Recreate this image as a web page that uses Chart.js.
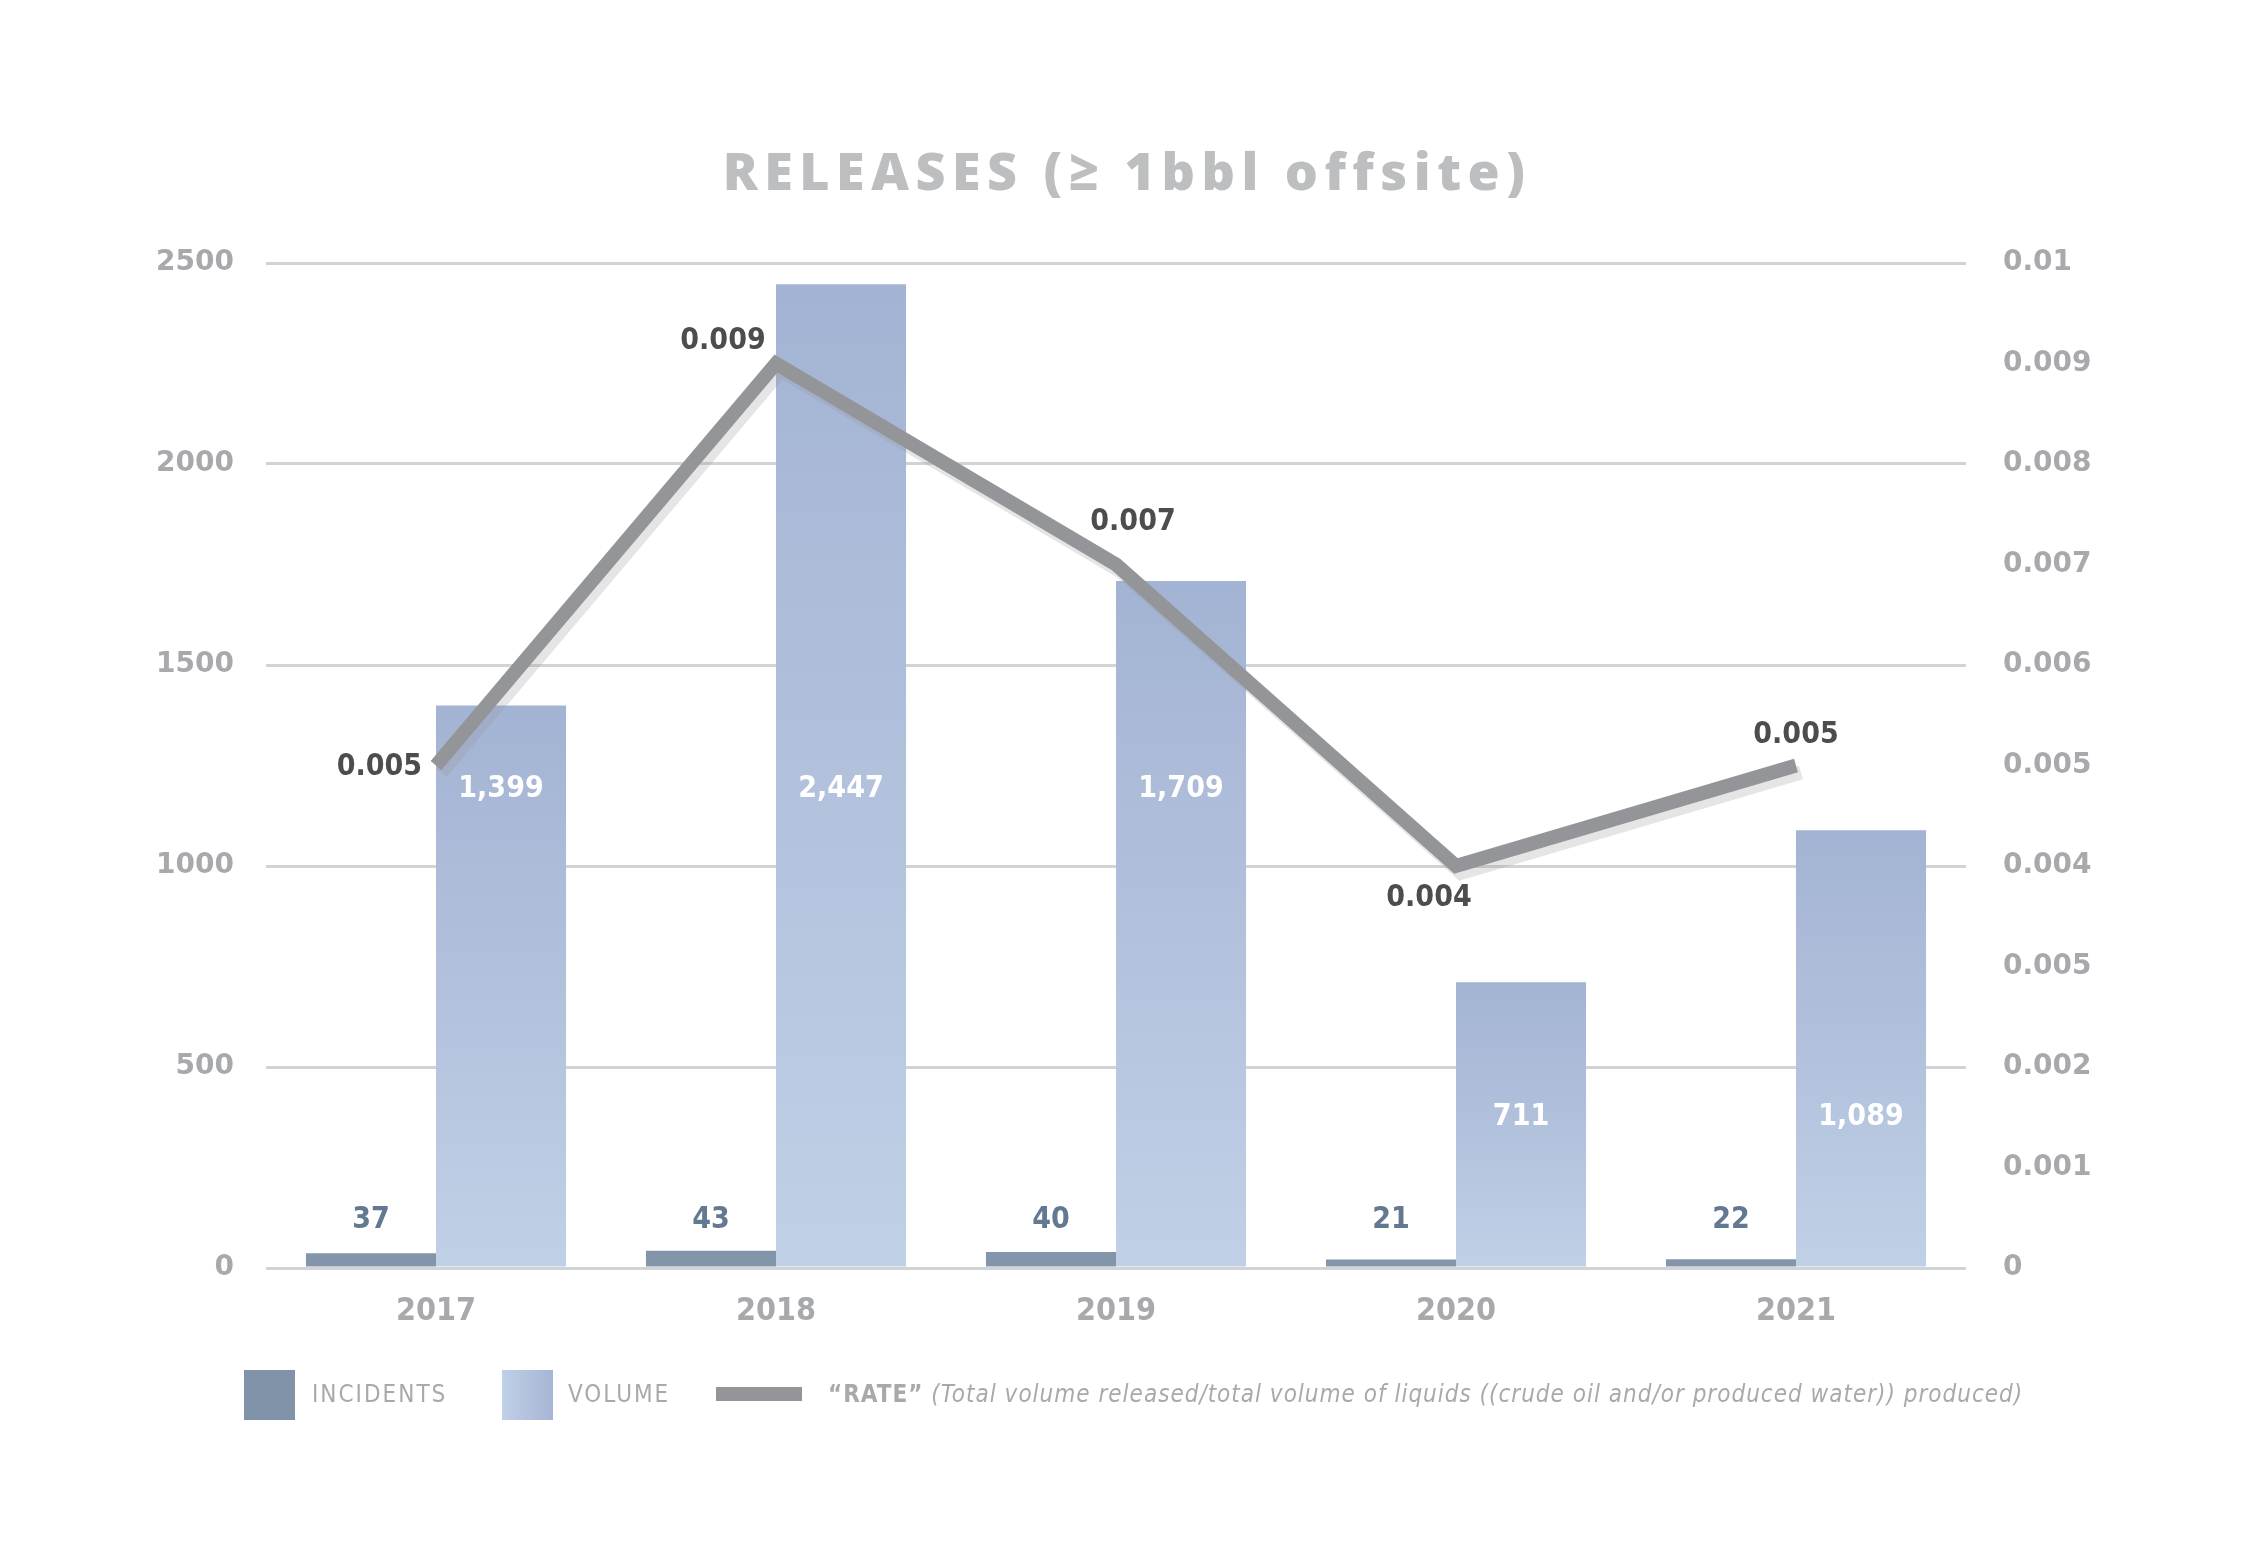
<!DOCTYPE html>
<html>
<head>
<meta charset="utf-8">
<script src="https://cdn.jsdelivr.net/npm/chart.js@4.4.1/dist/chart.umd.min.js"></script>
<style>
  body { margin: 0; background: #fff; }
  #wrap { position: relative; width: 2254px; height: 1557px; }
  #title {
    position: absolute; top: 134px; left: 0; width: 2254px;
    text-align: center; line-height: 64px;
    font: 800 52px 'Open Sans', sans-serif; letter-spacing: 6.5px; color: #bcbec0;
  }
  .leg { position: absolute; font: 24px 'DejaVu Sans Condensed', 'DejaVu Sans', sans-serif; color: #a7a9ac; top: 1380px; white-space: nowrap; letter-spacing: 1px; }
  .sw { position: absolute; }
</style>
</head>
<body>
<div id="wrap">
  <div id="title">RELEASES (≥ 1bbl offsite)</div>
  <canvas id="chart" width="2254" height="1557"></canvas>
  <div class="sw" style="left:244px;top:1370px;width:51px;height:50px;background:#8093a9"></div>
  <div class="leg" style="left:312px;letter-spacing:2px;">INCIDENTS</div>
  <div class="sw" style="left:502px;top:1370px;width:51px;height:50px;background:linear-gradient(to right,#c0d0e7,#a5b5d4)"></div>
  <div class="leg" style="left:568px;letter-spacing:2px;">VOLUME</div>
  <div class="sw" style="left:716px;top:1387px;width:86px;height:14px;background:#939598"></div>
  <div class="leg" style="left:828px;"><b>“RATE”</b> <i>(Total volume released/total volume of liquids ((crude oil and/or produced water)) produced)</i></div>
</div>
<script>
// Data
const years = ['2017', '2018', '2019', '2020', '2021'];
const incidents = [37, 43, 40, 21, 22];
const volume = [1399, 2447, 1709, 711, 1089];
const rate = [0.005, 0.009, 0.007, 0.004, 0.005];
const volumeTicks = [0, 500, 1000, 1500, 2000, 2500];
const rateTicks = ['0', '0.001', '0.002', '0.005', '0.004', '0.005', '0.006', '0.007', '0.008', '0.009', '0.01'];

const condensed = "'DejaVu Sans Condensed', 'DejaVu Sans', sans-serif";

// per-bar vertical gradient for volume bars
function volumeFill(context) {
    const chart = context.chart;
    const y = chart.scales.y;
    if (!chart.chartArea || !y || context.raw === undefined) return '#b2c2de';
    const top = y.getPixelForValue(context.raw);
    const bottom = y.getPixelForValue(0);
    if (!isFinite(top) || !isFinite(bottom)) return '#b2c2de';
    const g = chart.ctx.createLinearGradient(0, top, 0, bottom);
    g.addColorStop(0, '#a3b3d3');
    g.addColorStop(1, '#c0d0e6');
    return g;
}

// light shadow under the rate line
const lineShadow = {
    id: 'lineShadow',
    beforeDatasetDraw(chart, args) {
        if (args.meta.type !== 'line') return;
        const ctx = chart.ctx;
        ctx.save();
        ctx.shadowColor = 'rgba(150,150,155,0.25)';
        ctx.shadowOffsetX = 5;
        ctx.shadowOffsetY = 7;
        ctx.shadowBlur = 0;
    },
    afterDatasetDraw(chart, args) {
        if (args.meta.type !== 'line') return;
        chart.ctx.restore();
    }
};

// value labels
const valueLabels = {
    id: 'valueLabels',
    afterDatasetsDraw(chart, args, opts) {
        const ctx = chart.ctx;
        const y = chart.scales.y;
        ctx.save();
        ctx.font = 'bold 30px ' + condensed;
        ctx.textBaseline = 'middle';
        ctx.textAlign = 'center';

        // incidents
        chart.getDatasetMeta(0).data.forEach((bar, i) => {
            ctx.fillStyle = '#637891';
            ctx.fillText(incidents[i], bar.x, y.getPixelForValue(opts.incidentsAt));
        });
        // volume
        chart.getDatasetMeta(1).data.forEach((bar, i) => {
            ctx.fillStyle = '#ffffff';
            ctx.fillText(volume[i].toLocaleString('en-US'), bar.x, y.getPixelForValue(opts.volumeAt[i]));
        });
        // rate
        chart.getDatasetMeta(2).data.forEach((pt, i) => {
            const [dx, dy, align] = opts.rateOffsets[i];
            ctx.fillStyle = '#4d4d4f';
            ctx.textAlign = align;
            ctx.fillText(rate[i].toString(), pt.x + dx, pt.y + dy);
        });
        ctx.restore();
    }
};

new Chart(document.getElementById('chart'), {
    type: 'bar',
    data: {
        labels: years,
        datasets: [
            {
                label: 'INCIDENTS',
                data: incidents,
                backgroundColor: '#8395aa',
                yAxisID: 'y',
                order: 2
            },
            {
                label: 'VOLUME',
                data: volume,
                backgroundColor: volumeFill,
                yAxisID: 'y',
                order: 2
            },
            {
                type: 'line',
                label: 'RATE',
                data: rate,
                yAxisID: 'y1',
                borderColor: '#939598',
                borderWidth: 14,
                borderJoinStyle: 'miter',
                borderCapStyle: 'butt',
                pointRadius: 0,
                tension: 0,
                order: 1
            }
        ]
    },
    options: {
        responsive: false,
        animation: false,
        layout: { padding: { top: 263, bottom: 0, left: 0, right: 0 } },
        datasets: {
            bar: { categoryPercentage: 0.765, barPercentage: 1.0 }
        },
        plugins: {
            legend: { display: false },
            tooltip: { enabled: false },
            valueLabels: {
                incidentsAt: 118,
                volumeAt: [1190, 1190, 1190, 375, 375],
                rateOffsets: [[-14, 2, 'right'], [-53, -22, 'center'], [17, -42, 'center'], [-27, 32, 'center'], [0, -30, 'center']]
            }
        },
        scales: {
            x: {
                grid: { display: false },
                border: { display: false },
                ticks: { color: '#a7a9ac', padding: 16, font: { family: condensed, size: 32, weight: 'bold' } },
                afterFit(scale) { scale.height = 289; }
            },
            y: {
                position: 'left',
                min: 0,
                max: 2500,
                afterBuildTicks(scale) { scale.ticks = volumeTicks.map(v => ({ value: v })); },
                grid: { color: '#d1d3d4', lineWidth: 3, drawTicks: false },
                border: { display: false },
                ticks: {
                    color: '#a7a9ac',
                    padding: 32,
                    font: { family: 'DejaVu Sans', size: 28, weight: 'bold' },
                    callback: value => String(value)
                },
                afterFit(scale) { scale.width = 266; }
            },
            y1: {
                position: 'right',
                min: 0,
                max: 0.01,
                afterBuildTicks(scale) { scale.ticks = rateTicks.map((t, i) => ({ value: i * 0.001 })); },
                grid: { display: false, drawTicks: false },
                border: { display: false },
                ticks: {
                    color: '#a7a9ac',
                    padding: 37,
                    font: { family: 'DejaVu Sans', size: 28, weight: 'bold' },
                    callback: (value, index) => rateTicks[index]
                },
                afterFit(scale) { scale.width = 288; }
            }
        }
    },
    plugins: [lineShadow, valueLabels]
});
</script>
</body>
</html>
